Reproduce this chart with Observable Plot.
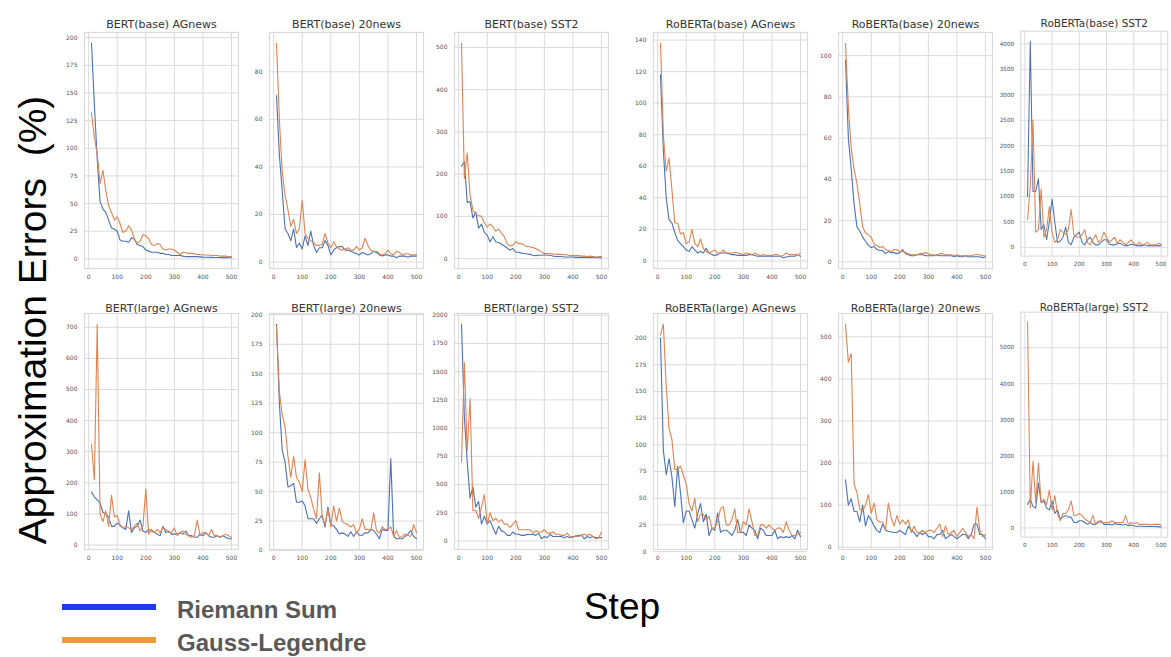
<!DOCTYPE html>
<html>
<head>
<meta charset="utf-8">
<script src="https://cdn.jsdelivr.net/npm/d3@7"></script>
<script src="https://cdn.jsdelivr.net/npm/@observablehq/plot@0.6"></script>
<style>
  html, body { margin: 0; padding: 0; background: #fff; }
  #root { position: relative; width: 1171px; height: 657px; overflow: hidden; background: #fff; }
  .panel { position: absolute; }
  .label { position: absolute; font-family: "Liberation Sans", Arial, sans-serif; color: #000; white-space: pre; }
  .legline { position: absolute; height: 6px; }
  .legtext { position: absolute; font-family: "Liberation Sans", Arial, sans-serif; font-weight: bold; font-size: 24px; color: #595959; white-space: pre; }
</style>
</head>
<body>
<div id="root"></div>
<script>
// ---------- data ----------
const steps = [10,20,30,40,50,60,70,80,90,100,110,120,130,140,150,160,170,180,190,200,210,220,230,240,250,260,270,280,290,300,310,320,330,340,350,360,370,380,390,400,410,420,430,440,450,460,470,480,490,500];
const xTicks = [0,100,200,300,400,500];
const methods = ["Riemann Sum", "Gauss-Legendre"];
const panelTitles = [
  "BERT(base) AGnews", "BERT(base) 20news", "BERT(base) SST2",
  "RoBERTa(base) AGnews", "RoBERTa(base) 20news", "RoBERTa(base) SST2",
  "BERT(large) AGnews", "BERT(large) 20news", "BERT(large) SST2",
  "RoBERTa(large) AGnews", "RoBERTa(large) 20news", "RoBERTa(large) SST2"
];

const bertBaseAgnewsRiemann = [195,140,90,52,45,42,35,28,27,25,17,16,16,15,19,18,13,12,11,8,7,6,6,6,5,5,4,4,3,3,3,3,2.5,2,2,2,2,2,1.8,1.6,1.5,1.5,1.4,1.3,1.2,1.2,1.1,1.1,1,1];
const bertBaseAgnewsGauss = [132,110,95,68,80,62,48,42,35,38,32,24,25,30,26,18,14,16,22,21,18,13,12,14,13,9,8,9,9,8,6,4,6,5.5,5,5,4.5,4,4,3.5,3.5,3.5,3,3,3,2.5,2.5,2.5,2,2];

const bertBase20newsRiemann = [70,45,30,14,12,9,14,6,8,5.5,11,7,13,7,4,6,6,9,7,3,5,6,6.5,6.5,5,5,4.5,4,3.5,3,4,3.5,3,3.5,4.5,4,3,2.5,3,3,2.5,2.5,1.8,2.5,2.5,2.5,2,2.5,2.5,2.5];
const bertBase20newsGauss = [92,60,38,28,22,15,18,12,14,26,12,10,9,8,7,7,7.5,12,8,6,8.5,6.5,5.5,5,5.5,6,5,5,6.5,5,6,10,7,5,4.5,4.5,3.5,3,3.5,5,3.5,3,4.5,4,3,3.5,3.5,3,3,3];

const bertBaseSst2Riemann = [218,230,133,135,96,110,72,82,62,55,40,52,40,38,34,30,25,20,24,15,15,13,12,11,10,8,7,8,8,9,8,8,6,5,5,5,4,4,4,4,3,3,3,3,3,2.5,2.5,2.5,2,2];
const bertBaseSst2Gauss = [510,190,250,150,115,105,102,100,85,75,82,75,65,70,60,52,35,30,32,40,36,35,32,28,28,26,24,20,16,12,12,12,11,10,10,10,9,9,7,7,7,7,6,6,5,6,5,4,5,5];

const robertaBaseAgnewsRiemann = [118,70,40,26,24,18,13,11,9,7,6,9,7,5,6,5,8,5,4,3.5,4,5,5,5,4.5,4,4,3.5,3.5,3.5,3.5,4,4,3.5,3,3,3,3,3,3,3,3,3,2,2.5,3,3,3,4,3];
const robertaBaseAgnewsGauss = [138,80,57,65,45,24,24,17,18,11,12,20,11,9,14,8,6,5,6,7,5,5,7,5,5,5,5.5,5,4.5,4,5,4.5,4,5,4,3.5,4,3.5,3.5,3.5,4,4,3,3.5,5,4,4,4,4,5];

const robertaBase20newsRiemann = [98,60,45,28,17,15,12,10,8,7,7.5,6,5.5,5.5,4,5,4.5,4.5,4,4.5,6,4,3.5,3,3,3.5,3.5,3.5,3,3,3,3,3.5,3,3,3,3,3,2.5,3,2.5,2.5,3,2.5,2.5,2.5,2.5,2.5,2,2.5];
const robertaBase20newsGauss = [106,75,55,45,38,28,17,14,13,12,8.5,8,7,7.5,6,5.5,5,6,6,5,5,4.5,4,3.5,3.5,3.5,4,4,4.5,4,3.5,3.5,3,4,4,3.5,3.5,3.5,3,3.5,3,3,3,3,3,3.5,3.5,3.5,3,3];

const robertaBaseSst2Riemann = [1000,4050,1100,1100,1350,350,450,150,500,950,500,100,120,200,400,100,50,200,250,300,100,50,150,200,100,50,50,100,150,150,60,50,50,70,80,50,30,40,60,50,30,40,30,50,30,40,30,40,30,40];
const robertaBaseSst2Gauss = [550,1200,2500,300,350,1150,200,350,800,300,100,150,350,300,250,350,750,250,200,200,250,350,100,50,150,250,100,150,300,200,100,150,200,80,150,100,50,100,150,80,50,100,50,60,100,50,50,50,80,60];

const bertLargeAgnewsRiemann = [170,155,145,135,105,100,90,60,60,70,65,55,50,110,40,55,60,80,45,40,50,45,40,35,30,60,40,45,35,35,35,40,35,45,30,30,25,25,35,30,40,30,25,25,30,25,30,25,20,20];
const bertLargeAgnewsGauss = [325,210,710,100,75,110,60,160,90,95,60,55,60,55,50,60,70,45,60,180,35,50,40,50,40,55,50,40,40,55,30,40,45,35,30,25,30,80,30,40,40,30,50,30,30,25,30,35,30,25];

const bertLarge20newsRiemann = [192,125,85,75,54,55,57,41,41,42,38,27,27,27,23,27,30,20,37,22,21,18,14,15,14,12,16,12,16,13,13,15,15,18,17,14,10,18,17,17,78,12,10,10,10,12,14,17,12,10];
const bertLarge20newsGauss = [190,135,115,105,80,62,80,62,58,50,77,52,45,35,27,66,28,22,35,20,38,25,36,25,23,22,20,22,15,18,27,18,18,17,32,17,15,20,18,18,20,12,17,11,12,14,13,12,22,15];

const bertLargeSst2Riemann = [1920,1100,700,380,480,300,350,150,220,150,180,120,60,130,90,80,50,50,80,60,60,50,50,60,55,60,50,70,20,40,30,60,40,40,40,40,30,40,30,40,40,50,50,20,40,30,40,30,30,30];
const bertLargeSst2Gauss = [700,1580,800,1260,270,270,200,300,410,150,250,180,200,170,190,150,150,120,150,180,100,100,100,100,100,70,90,80,80,100,70,70,80,60,60,50,50,70,40,30,50,40,50,60,50,60,40,20,30,80];

const robertaLargeAgnewsRiemann = [200,95,72,87,70,42,80,55,27,38,38,30,22,35,45,28,35,15,22,20,36,18,20,20,18,15,20,30,18,18,15,25,22,20,12,22,20,15,15,15,20,12,14,13,14,13,15,12,20,14];
const robertaLargeAgnewsGauss = [203,213,155,115,105,77,77,80,72,63,45,38,50,28,35,35,30,33,22,22,28,40,42,25,25,30,40,18,18,28,25,40,28,15,15,25,25,22,25,22,20,22,22,18,28,20,15,15,16,18];

const robertaLarge20newsRiemann = [160,100,115,85,85,60,100,50,75,65,50,40,35,55,40,38,36,35,35,40,35,30,50,40,35,25,35,30,35,25,25,20,30,30,40,20,25,30,25,20,25,30,30,20,30,55,55,30,30,20];
const robertaLarge20newsGauss = [530,440,460,150,130,90,85,100,125,80,105,65,60,60,40,105,70,50,75,55,65,55,65,35,50,35,35,40,35,40,40,35,45,55,25,50,30,35,40,25,35,45,35,25,30,20,95,40,25,30];

const robertaLargeSst2Riemann = [650,800,600,550,1250,700,750,550,500,750,400,500,250,300,350,300,300,150,150,200,200,150,100,150,100,100,150,200,100,100,100,80,120,100,100,80,100,60,80,60,50,50,50,40,40,40,40,40,30,30];
const robertaLargeSst2Gauss = [5700,550,1850,700,1800,700,800,650,1050,500,900,400,200,400,400,500,750,350,350,400,350,250,200,150,350,100,200,150,150,150,150,200,150,150,150,150,350,100,150,120,150,100,100,100,100,80,100,100,100,80];

const yTicksList = [
  [0,25,50,75,100,125,150,175,200],
  [0,20,40,60,80],
  [0,100,200,300,400,500],
  [0,20,40,60,80,100,120,140],
  [0,20,40,60,80,100],
  [0,500,1000,1500,2000,2500,3000,3500,4000],
  [0,100,200,300,400,500,600,700],
  [0,25,50,75,100,125,150,175,200],
  [0,250,500,750,1000,1250,1500,1750,2000],
  [0,25,50,75,100,125,150,175,200],
  [0,100,200,300,400,500],
  [0,1000,2000,3000,4000,5000]
];

const seriesList = [
  [bertBaseAgnewsRiemann, bertBaseAgnewsGauss],
  [bertBase20newsRiemann, bertBase20newsGauss],
  [bertBaseSst2Riemann, bertBaseSst2Gauss],
  [robertaBaseAgnewsRiemann, robertaBaseAgnewsGauss],
  [robertaBase20newsRiemann, robertaBase20newsGauss],
  [robertaBaseSst2Riemann, robertaBaseSst2Gauss],
  [bertLargeAgnewsRiemann, bertLargeAgnewsGauss],
  [bertLarge20newsRiemann, bertLarge20newsGauss],
  [bertLargeSst2Riemann, bertLargeSst2Gauss],
  [robertaLargeAgnewsRiemann, robertaLargeAgnewsGauss],
  [robertaLarge20newsRiemann, robertaLarge20newsGauss],
  [robertaLargeSst2Riemann, robertaLargeSst2Gauss]
];

// ---------- layout ----------
const colLefts = [84, 269, 454, 653, 838, 1022];
const rowTops = [32, 313];
const rowTitleDy = [-12, -9];
const frameW = 154, frameH = 236;
const mL = 34, mR = 4, mT = 28, mB = 16;
const gridColor = "#dadada";

const root = document.getElementById("root");

function makePanel(i) {
  const [riemann, gauss] = seriesList[i];
  const rows = [];
  steps.forEach((s, k) => rows.push({step: s, value: riemann[k], method: methods[0]}));
  steps.forEach((s, k) => rows.push({step: s, value: gauss[k], method: methods[1]}));
  const all = riemann.concat(gauss);
  const lo = d3.min(all), hi = d3.max(all), pad = (hi - lo) * 0.05;
  const xlo = d3.min(steps), xhi = d3.max(steps), xpad = (xhi - xlo) * 0.05;
  const yTicks = yTicksList[i];
  const row = Math.floor(i / 6), col = i % 6;
  const chart = Plot.plot({
    width: mL + frameW + mR,
    height: mT + frameH + mB,
    marginLeft: mL, marginRight: mR, marginTop: mT, marginBottom: mB,
    style: {fontFamily: "DejaVu Sans", fontSize: "6px", color: "#555", background: "transparent", overflow: "visible"},
    x: {domain: [xlo - xpad, xhi + xpad]},
    y: {domain: [lo - pad, hi + pad]},
    color: {domain: methods, range: ["#4c72b0", "#dd8452"]},
    marks: [
      Plot.gridX(xTicks, {stroke: gridColor, strokeOpacity: 1, strokeWidth: 1}),
      Plot.gridY(yTicks, {stroke: gridColor, strokeOpacity: 1, strokeWidth: 1}),
      Plot.frame({stroke: gridColor, strokeWidth: 1.2}),
      Plot.axisX(xTicks, {tickSize: 0, tickPadding: 6, label: null, tickFormat: d3.format("d"), fill: "#555"}),
      Plot.axisY(yTicks, {tickSize: 0, tickPadding: 7, label: null, tickFormat: d3.format("d"), fill: "#555"}),
      Plot.lineY(rows, {x: "step", y: "value", stroke: "method", strokeWidth: 1.1}),
      Plot.text([panelTitles[i]], {frameAnchor: "top", dy: rowTitleDy[row], text: d => d, fontSize: 11, fill: "#333", fontFamily: "DejaVu Sans"})
    ]
  });
  const div = document.createElement("div");
  div.className = "panel";
  div.style.left = (colLefts[col] - mL) + "px";
  div.style.top = (rowTops[row] - mT) + "px";
  div.appendChild(chart);
  root.appendChild(div);
}

for (let i = 0; i < 12; i++) makePanel(i);

// big axis labels
const yl = document.createElement("div");
yl.className = "label";
yl.textContent = "Approximation Errors  (%)";
yl.style.fontSize = "39px";
yl.style.left = "33px";
yl.style.top = "320px";
yl.style.transform = "translate(-50%, -50%) rotate(-90deg)";
root.appendChild(yl);

const xl = document.createElement("div");
xl.className = "label";
xl.textContent = "Step";
xl.style.fontSize = "37px";
xl.style.left = "622px";
xl.style.top = "607px";
xl.style.transform = "translate(-50%, -50%)";
root.appendChild(xl);

// legend
const legendColors = ["#1f3ce6", "#f0993c"];
const legendY = [607, 640];
methods.forEach((m, k) => {
  const ln = document.createElement("div");
  ln.className = "legline";
  ln.style.background = legendColors[k];
  ln.style.left = "62px";
  ln.style.width = "94px";
  ln.style.top = (legendY[k] - 3) + "px";
  root.appendChild(ln);
  const tx = document.createElement("div");
  tx.className = "legtext";
  tx.textContent = m;
  tx.style.left = "177px";
  tx.style.top = (legendY[k] + 3) + "px";
  tx.style.transform = "translateY(-50%)";
  root.appendChild(tx);
});
</script>
</body>
</html>
